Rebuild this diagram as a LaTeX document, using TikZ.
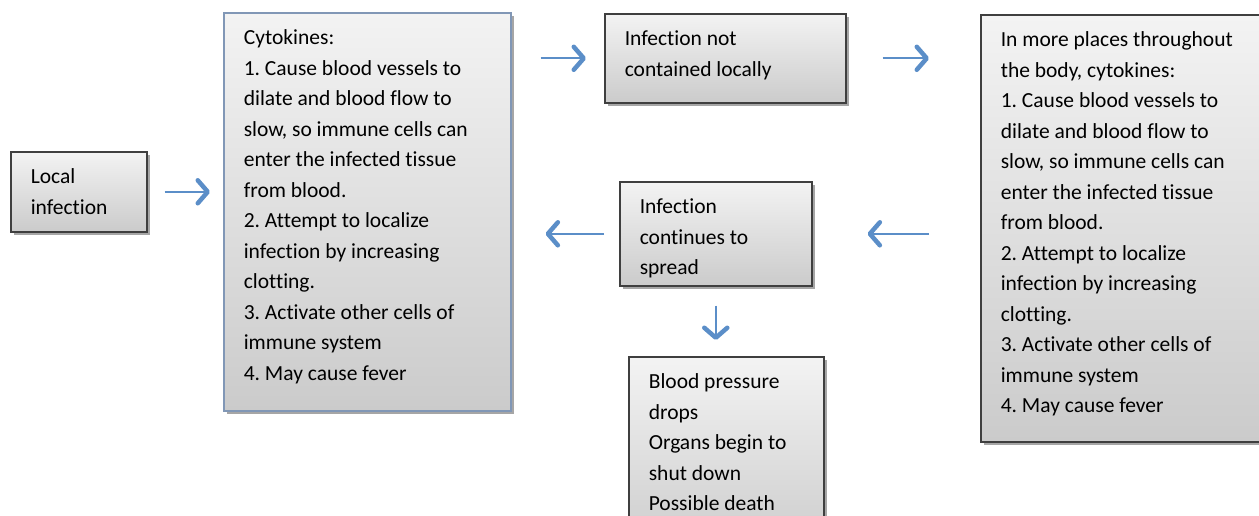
\documentclass[tikz,border=0pt]{standalone}
\usepackage{fontspec}
\setmainfont{Carlito}[Ligatures=CommonOff]
\usetikzlibrary{arrows.meta,shadows}
\definecolor{ink}{HTML}{3F3F3F}
\definecolor{edgeblue}{HTML}{8197B6}
\definecolor{arrowblue}{HTML}{5B8EC8}
\definecolor{washtop}{HTML}{F3F3F3}
\definecolor{washbot}{HTML}{CBCBCB}
\frenchspacing
\newcommand\boxtxt[3]{\parbox[c][#2][t]{#1}{\raggedright\leftskip=20pt\rule{0pt}{32pt}#3}}
\tikzset{box/.style={draw=ink,line width=1.6pt,top color=washtop,bottom color=washbot,inner sep=0pt,anchor=north west,font=\fontsize{21.5}{30.5}\selectfont,drop shadow={shadow xshift=3pt,shadow yshift=-3pt,opacity=.35,fill=black}}, arr/.style={draw=arrowblue,line width=1.8pt,-{Straight Barb[length=10pt,width=23pt,line width=4.5pt,round]}}}

\begin{document}
\begin{tikzpicture}[x=1pt,y=-1pt]
\path[use as bounding box,clip] (0,0) rectangle (1259,516);
\node[box](local) at (10,151){\boxtxt{136pt}{80pt}{Local\\infection}};
\node[box,draw=edgeblue](cyto) at (223,12){\boxtxt{287pt}{398pt}{Cytokines:\\1. Cause blood vessels to\\dilate and blood flow to\\slow, so immune cells can\\enter the infected tissue\\from blood.\\2. Attempt to localize\\infection by increasing\\clotting.\\3. Activate other cells of\\immune system\\4. May cause fever}};
\node[box](notcont) at (604,13){\boxtxt{241pt}{89pt}{Infection not\\contained locally}};
\node[box](wide) at (980,14){\boxtxt{295pt}{427pt}{In more places throughout\\the body, cytokines:\\1. Cause blood vessels to\\dilate and blood flow to\\slow, so immune cells can\\enter the infected tissue\\from blood.\\2. Attempt to localize\\infection by increasing\\clotting.\\3. Activate other cells of\\immune system\\4. May cause fever}};
\node[box](spread) at (619,181){\boxtxt{192pt}{104pt}{Infection\\continues to\\spread}};
\node[box](organs) at (628,356){\boxtxt{195pt}{200pt}{Blood pressure\\drops\\Organs begin to\\shut down\\Possible death}};
% arrows
\draw[arr,shorten <=17pt,shorten >=13pt](local.east)--(local.east -| cyto.west);
\draw[arr,shorten <=29pt,shorten >=18pt](cyto.east |- notcont.west)--(notcont.west);
\draw[arr,shorten <=36pt,shorten >=51pt](notcont.east)--(notcont.east -| wide.west);
\draw[arr,shorten <=51pt,shorten >=55pt](wide.west |- spread.east)--(spread.east);
\draw[arr,shorten <=15pt,shorten >=34pt](spread.west)--(spread.west -| cyto.east);
\draw[arr,shorten <=19pt,shorten >=16pt](spread.south)--(spread.south |- organs.north);
\end{tikzpicture}
\end{document}
